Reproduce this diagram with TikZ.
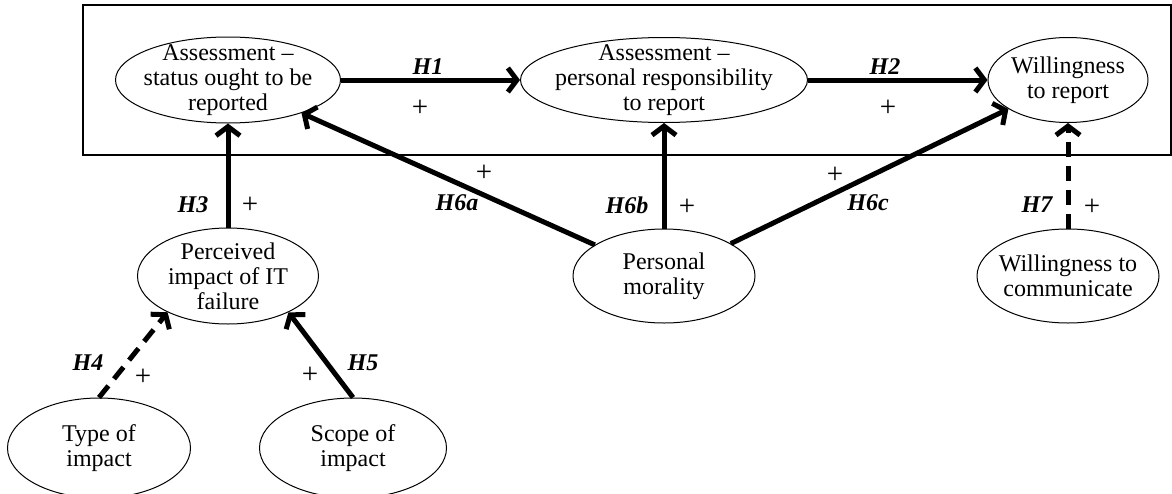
\documentclass[tikz,border=0pt]{standalone}
\usepackage{fontspec}
\setmainfont{Liberation Serif}
\usetikzlibrary{shapes.geometric, arrows.meta}
\tikzset{
	var/.style = {ellipse, draw, line width = 1pt, inner sep = 0pt},
	txt/.style = {align = center, font = \fontsize{24}{25}\selectfont},
	hyp/.style = {line width = 5pt, -{Straight Barb[length = 9pt, width = 24pt, line width = 5pt]}},
	hypd/.style = {hyp, dash pattern = on 15pt off 9pt},
	hlab/.style = {font = \fontsize{24}{25}\selectfont\bfseries\itshape},
	sgn/.style = {font = \fontsize{29}{30}\selectfont},
}
\begin{document}
\begin{tikzpicture}[x = 1pt, y = -1pt]
	\clip (0, 0) rectangle (1172, 493);
	\draw [line width = 1.3pt] (83, 5) rectangle (1171, 155);

	\node[var, minimum width = 225pt, minimum height = 86pt, label = {[txt]center:{Assessment --\\status ought to be\\reported}}] (status) at (228, 80) {};
	\node[var, minimum width = 287pt, minimum height = 85pt, label = {[txt]center:{Assessment --\\personal responsibility\\to report}}] (resp) at (664, 80) {};
	\node[var, minimum width = 160pt, minimum height = 85pt, label = {[txt]center:{Willingness\\to report}}] (willing) at (1068, 80) {};
	\node[var, minimum width = 181pt, minimum height = 96pt, label = {[txt]center:{Perceived\\impact of IT\\failure}}] (percv) at (228, 276) {};
	\node[var, minimum width = 182pt, minimum height = 94pt, label = {[txt]center:{Personal\\morality}}] (moral) at (664, 276) {};
	\node[var, minimum width = 182pt, minimum height = 94pt, label = {[txt]center:{Willingness to\\communicate}}] (commun) at (1068, 276) {};
	\node[var, minimum width = 183pt, minimum height = 100pt, label = {[txt]center:{Type of\\impact}}] (typeimp) at (99, 448) {};
	\node[var, minimum width = 187pt, minimum height = 100pt, label = {[txt]center:{Scope of\\impact}}] (scopeimp) at (353, 448) {};

	\draw[hyp] (status) -- (resp);
	\draw[hyp] (resp) -- (willing);
	\draw[hyp] (percv) -- (status);
	\draw[hypd] (typeimp.north) -- (percv.211);
	\draw[hyp] (scopeimp.north) -- (percv.329);
	\draw[hyp] (moral) -- (status);
	\draw[hyp] (moral) -- (resp);
	\draw[hyp] (moral) -- (willing);
	\draw[hypd] (commun) -- (willing);

	\node[hlab] (h1) at (428, 67) {H1};
	\node[hlab] (h2) at (885, 67) {H2};
	\node[hlab] (h3) at (193, 205) {H3};
	\node[hlab] (h4) at (88, 363) {H4};
	\node[hlab] (h5) at (363, 363) {H5};
	\node[hlab] (h6a) at (457, 203) {H6a};
	\node[hlab] (h6b) at (627, 205) {H6b};
	\node[hlab] (h6c) at (868, 203) {H6c};
	\node[hlab] (h7) at (1037, 205) {H7};

	\foreach \n/\p in {1/{420, 108}, 2/{888, 108}, 3/{250, 205}, 4/{143, 377}, 5/{310, 375}, 6/{484, 173}, 7/{687, 207}, 8/{835, 175}, 9/{1092, 207}}
	{
		\node[sgn] (plus\n) at (\p) {+};
	}
\end{tikzpicture}
\end{document}
